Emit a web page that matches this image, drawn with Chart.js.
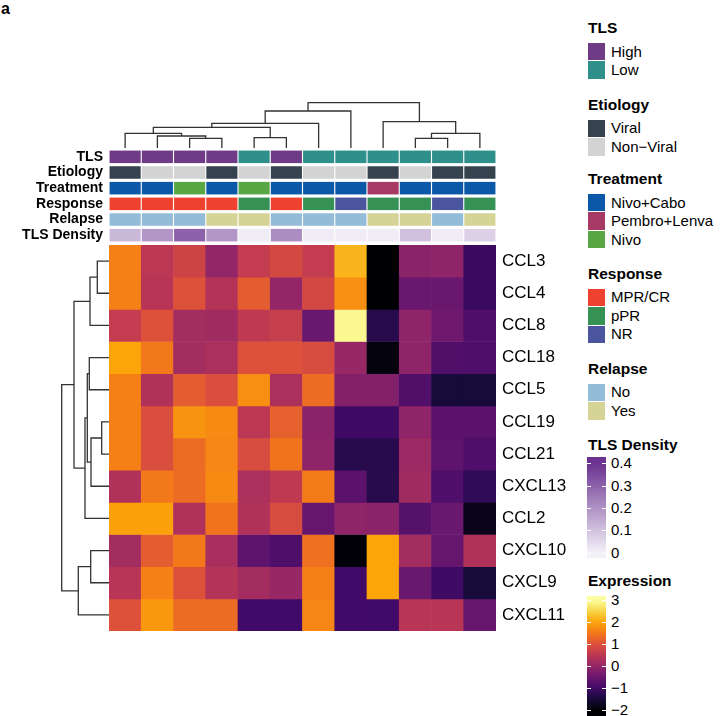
<!DOCTYPE html>
<html>
<head>
<meta charset="utf-8">
<script src="https://cdn.jsdelivr.net/npm/chart.js@4.4.1/dist/chart.umd.min.js"></script>
<style>
  body { margin: 0; background: #fff; width: 720px; height: 716px; position: relative; overflow: hidden;
         font-family: "Liberation Sans", Arial, sans-serif; color: #000; }
  canvas { position: absolute; }
  .txt { position: absolute; white-space: nowrap; }
  .title { font-weight: bold; font-size: 15.5px; }
  .lab { font-size: 15px; }
  .sw { position: absolute; }
  .tick { position: absolute; background: #fff; height: 1px; width: 4px; }
</style>
</head>
<body>
<div class="txt" style="left:1px;top:0px;font-weight:bold;font-size:16px;">a</div>
<canvas id="topDendro" width="387" height="54" style="left:109px;top:94px;"></canvas>
<canvas id="leftDendro" width="54" height="386" style="left:55px;top:245px;"></canvas>
<canvas id="annot" width="478" height="94" style="left:18px;top:149px;"></canvas>
<canvas id="heat" width="477" height="386" style="left:109px;top:245px;"></canvas>
<div id="legends"></div>
<script>
// ========== DATA ==========
const columns = ['P1', 'P2', 'P3', 'P4', 'P5', 'P6', 'P7', 'P8', 'P9', 'P10', 'P11', 'P12'];
const genes = ['CCL3', 'CCL4', 'CCL8', 'CCL18', 'CCL5', 'CCL19', 'CCL21', 'CXCL13', 'CCL2', 'CXCL10', 'CXCL9', 'CXCL11'];

// one row per gene, columns in display order
const expression = [
  [1.6, 0.5, 0.75, 0.0, 0.6, 0.85, 0.6, 2.15, -2.0, -0.1, -0.05, -1.1],     // CCL3
  [1.6, 0.45, 1.0, 0.4, 1.15, 0.0, 0.85, 1.75, -2.0, -0.5, -0.5, -1.1],    // CCL4
  [0.6, 1.0, 0.2, 0.15, 0.55, 0.65, -0.5, 2.9, -1.3, -0.05, -0.45, -0.85], // CCL8
  [2.0, 1.5, 0.2, 0.3, 1.0, 1.0, 0.9, 0.05, -1.9, -0.05, -0.8, -0.85],     // CCL18
  [1.6, 0.35, 1.15, 0.95, 1.75, 0.3, 1.35, -0.2, -0.2, -0.8, -1.5, -1.5],  // CCL5
  [1.6, 0.95, 1.8, 1.7, 0.5, 1.2, -0.1, -1.05, -1.05, -0.05, -0.7, -0.7],  // CCL19
  [1.6, 0.95, 1.35, 1.65, 0.9, 1.45, -0.05, -1.3, -1.3, 0.1, -0.65, -0.85],// CCL21
  [0.35, 1.5, 1.35, 1.7, 0.3, 0.55, 1.55, -0.7, -1.3, 0.15, -0.85, -1.2],  // CXCL13
  [1.95, 1.95, 0.35, 1.45, 0.35, 0.9, -0.55, -0.05, -0.1, -0.75, -0.5, -1.8], // CCL2
  [0.2, 1.15, 1.5, 0.25, -0.65, -0.85, 1.4, -1.95, 2.0, 0.2, -0.55, 0.35], // CXCL10
  [0.45, 1.6, 1.0, 0.4, 0.2, 0.05, 1.6, -1.0, 2.0, -0.5, -1.05, -1.5],     // CXCL9
  [1.0, 1.85, 1.35, 1.35, -1.0, -1.0, 1.65, -1.0, -1.0, 0.45, 0.45, -0.55] // CXCL11
];

const trackNames = ['TLS', 'Etiology', 'Treatment', 'Response', 'Relapse', 'TLS Density'];
const tls = ['High', 'High', 'High', 'High', 'Low', 'High', 'Low', 'Low', 'Low', 'Low', 'Low', 'Low'];
const etiology = ['Viral', 'Non−Viral', 'Non−Viral', 'Viral', 'Non−Viral', 'Viral', 'Non−Viral', 'Non−Viral', 'Viral', 'Non−Viral', 'Viral', 'Viral'];
const treatment = ['Nivo+Cabo', 'Nivo+Cabo', 'Nivo', 'Nivo+Cabo', 'Nivo', 'Nivo+Cabo', 'Nivo+Cabo', 'Nivo+Cabo', 'Pembro+Lenva', 'Nivo+Cabo', 'Nivo+Cabo', 'Nivo+Cabo'];
const response = ['MPR/CR', 'MPR/CR', 'MPR/CR', 'MPR/CR', 'pPR', 'MPR/CR', 'pPR', 'NR', 'pPR', 'pPR', 'NR', 'pPR'];
const relapse = ['No', 'No', 'No', 'Yes', 'Yes', 'No', 'No', 'No', 'Yes', 'Yes', 'No', 'Yes'];
const tlsDensity = [0.12, 0.19, 0.3, 0.19, 0.01, 0.21, 0.01, 0.01, 0.01, 0.1, 0.01, 0.07];

// hclust style merges: negative = leaf -(index+1), positive = earlier merge (1-based), then height
const colMerge = [
  [-3, -4, 9.7], [-2, 1, 12], [-1, 2, 14.7], [-5, -6, 10.3], [3, 4, 20.7], [5, -7, 24.7],
  [6, -8, 37], [-10, -11, 9.7], [8, -12, 14.7], [-9, 9, 26.3], [7, 10, 45.3]
];
const rowMerge = [
  [-1, -2, 11.7], [1, -3, 19], [-4, -5, 19.7], [-6, -7, 7.3], [4, -8, 18], [3, 5, 21.7],
  [6, -9, 24], [2, 7, 35], [-10, -11, 18.3], [9, -12, 30.7], [8, 10, 47.3]
];

const densityTicks = [0.4, 0.3, 0.2, 0.1, 0];
const expressionTicks = [3, 2, 1, 0, -1, -2];

// ========== COLORS ==========
const tlsColors = { 'High': '#6f3b87', 'Low': '#2f8f8a' };
const etiologyColors = { 'Viral': '#36434e', 'Non−Viral': '#d3d3d3' };
const treatmentColors = { 'Nivo+Cabo': '#0b58a8', 'Pembro+Lenva': '#a73a64', 'Nivo': '#58a744' };
const responseColors = { 'MPR/CR': '#ee4130', 'pPR': '#369254', 'NR': '#4a559e' };
const relapseColors = { 'No': '#93bcd8', 'Yes': '#d6d396' };
const infernoStops = ['#000004', '#160b39', '#420a68', '#6a176e', '#932667', '#bc3754', '#dd513a', '#f37819', '#fca50a', '#f6d746', '#fcffa4'];
const densityStops = ['#f3f1f8', '#6b3290'];
const EXPR_MIN = -2, EXPR_MAX = 3, DENS_MAX = 0.4;

function hexToRgb(h) {
  return [1, 3, 5].map(i => parseInt(h.slice(i, i + 2), 16));
}
function rampColor(stops, t) {
  t = Math.max(0, Math.min(1, t));
  const pos = t * (stops.length - 1);
  const i = Math.min(Math.floor(pos), stops.length - 2);
  const f = pos - i;
  const a = hexToRgb(stops[i]), b = hexToRgb(stops[i + 1]);
  const c = a.map((v, k) => Math.round(v + (b[k] - v) * f));
  return `rgb(${c[0]},${c[1]},${c[2]})`;
}
const exprColor = v => rampColor(infernoStops, (v - EXPR_MIN) / (EXPR_MAX - EXPR_MIN));
const densColor = v => rampColor(densityStops, v / DENS_MAX);

Chart.defaults.font.family = '"Liberation Sans", Arial, sans-serif';
Chart.defaults.color = '#000';

const quiet = {
  responsive: false,
  animation: false,
  events: [],
  layout: { padding: 0 },
  plugins: { legend: { display: false }, tooltip: { enabled: false } }
};

// side axes: fixed width, no extra padding for the end labels
const fixAxis = w => axis => {
  axis.width = w;
  axis.paddingTop = 0;
  axis.paddingBottom = 0;
};

// ========== DENDROGRAMS ==========
function dendroSegments(merge) {
  const pos = [];
  const nodePos = n => n < 0 ? { p: -n - 1, h: 0 } : pos[n - 1];
  return merge.map(([a, b, h]) => {
    const A = nodePos(a), B = nodePos(b);
    pos.push({ p: (A.p + B.p) / 2, h: h });
    return [{ p: A.p, h: A.h }, { p: A.p, h: h }, { p: B.p, h: h }, { p: B.p, h: B.h }];
  });
}
const lineStyle = { showLine: true, pointRadius: 0, borderColor: '#333', borderWidth: 1.3, clip: false };

new Chart(document.getElementById('topDendro'), {
  type: 'scatter',
  data: {
    datasets: dendroSegments(colMerge).map(seg => ({
      ...lineStyle, data: seg.map(s => ({ x: s.p, y: s.h }))
    }))
  },
  options: {
    ...quiet,
    scales: {
      x: { display: false, min: -0.5, max: columns.length - 0.5 },
      y: { display: false, min: 0, max: 54 }
    }
  }
});

new Chart(document.getElementById('leftDendro'), {
  type: 'scatter',
  data: {
    datasets: dendroSegments(rowMerge).map(seg => ({
      ...lineStyle, data: seg.map(s => ({ x: s.h, y: s.p }))
    }))
  },
  options: {
    ...quiet,
    scales: {
      x: { display: false, reverse: true, min: 0, max: 54 },
      y: { display: false, reverse: true, min: -0.5, max: genes.length - 0.5 }
    }
  }
});

// ========== ANNOTATION TRACKS ==========
const trackColors = [
  tls.map(v => tlsColors[v]),
  etiology.map(v => etiologyColors[v]),
  treatment.map(v => treatmentColors[v]),
  response.map(v => responseColors[v]),
  relapse.map(v => relapseColors[v]),
  tlsDensity.map(densColor)
];

new Chart(document.getElementById('annot'), {
  type: 'bar',
  data: {
    labels: columns,
    datasets: trackNames.map((name, k) => ({
      label: name,
      data: columns.map(() => [k + 0.1, k + 0.9]),
      backgroundColor: trackColors[k],
      grouped: false,
      categoryPercentage: 1,
      barPercentage: 0.965,
      borderWidth: 0
    }))
  },
  options: {
    ...quiet,
    scales: {
      x: { display: false },
      y: {
        position: 'left', reverse: true, min: 0, max: trackNames.length,
        grid: { display: false, drawTicks: false }, border: { display: false },
        afterBuildTicks: axis => { axis.ticks = trackNames.map((n, k) => ({ value: k + 0.5 })); },
        afterFit: fixAxis(91),
        ticks: {
          autoSkip: false, padding: 6, color: '#000',
          font: { size: 14, weight: 'bold' },
          callback: v => trackNames[Math.floor(v)]
        }
      }
    }
  }
});

// ========== HEATMAP ==========
new Chart(document.getElementById('heat'), {
  type: 'bar',
  data: {
    labels: columns,
    datasets: genes.map((g, r) => ({
      label: g,
      data: columns.map(() => [r, r + 1]),
      backgroundColor: expression[r].map(exprColor),
      grouped: false,
      categoryPercentage: 1,
      barPercentage: 1,
      borderWidth: 0
    }))
  },
  options: {
    ...quiet,
    scales: {
      x: { display: false },
      y: {
        position: 'right', reverse: true, min: 0, max: genes.length,
        grid: { display: false, drawTicks: false }, border: { display: false },
        afterBuildTicks: axis => { axis.ticks = genes.map((g, r) => ({ value: r + 0.5 })); },
        afterFit: fixAxis(90),
        ticks: {
          autoSkip: false, padding: 6, color: '#000',
          font: { size: 17 },
          callback: v => genes[Math.floor(v)]
        }
      }
    }
  }
});

// ========== LEGENDS ==========
const lg = document.getElementById('legends');
function addText(cls, text, x, yc, h) {
  const d = document.createElement('div');
  d.className = 'txt ' + cls;
  d.style.left = x + 'px';
  d.style.top = (yc - h / 2) + 'px';
  d.style.lineHeight = h + 'px';
  d.textContent = text;
  lg.appendChild(d);
}
function addBox(x, y, w, h, bg) {
  const d = document.createElement('div');
  d.className = 'sw';
  Object.assign(d.style, { left: x + 'px', top: y + 'px', width: w + 'px', height: h + 'px', background: bg });
  lg.appendChild(d);
}

const LX = 588, TX = 611, SW = 17, PITCH = 18.5;
const discrete = [
  ['TLS', tlsColors, 28.3],
  ['Etiology', etiologyColors, 105],
  ['Treatment', treatmentColors, 179.3],
  ['Response', responseColors, 274],
  ['Relapse', relapseColors, 369]
];
discrete.forEach(([title, colors, ty]) => {
  addText('title', title, LX, ty, 18);
  Object.keys(colors).forEach((lev, i) => {
    const yc = ty + 23.4 + i * PITCH;
    addBox(LX, yc - PITCH / 2 + 0.5, SW, PITCH - 1, colors[lev]);
    addText('lab', lev, TX, yc, 18);
  });
});

function colorBar(title, ty, ticks, stops, vmin, vmax, firstTick, step, top, bottom) {
  addText('title', title, LX, ty, 18);
  const yOf = v => firstTick + (ticks[0] - v) / (ticks[0] - ticks[1]) * step;
  const yTop = yOf(vmax), yBot = yOf(vmin);
  // gradient built so that colours land on the tick positions
  const grad = [];
  for (let i = 0; i <= 20; i++) {
    const y = top + (bottom - top) * i / 20;
    const v = vmax - (y - yTop) / (yBot - yTop) * (vmax - vmin);
    grad.push(rampColor(stops, (v - vmin) / (vmax - vmin)) + ' ' + (i * 5) + '%');
  }
  addBox(LX - 1, top, 19, bottom - top, 'linear-gradient(to bottom,' + grad.join(',') + ')');
  ticks.forEach(t => {
    const y = yOf(t);
    const l1 = document.createElement('div'); l1.className = 'tick';
    l1.style.left = (LX - 1) + 'px'; l1.style.top = y + 'px'; lg.appendChild(l1);
    const l2 = document.createElement('div'); l2.className = 'tick';
    l2.style.left = (LX + 14) + 'px'; l2.style.top = y + 'px'; lg.appendChild(l2);
    addText('lab', String(t).replace('-', '\u2212'), TX, y, 18);
  });
}
colorBar('TLS Density', 445, densityTicks, densityStops, 0, DENS_MAX, 463.3, 22.35, 457, 558);
colorBar('Expression', 580.7, expressionTicks, infernoStops, EXPR_MIN, EXPR_MAX, 600, 22, 596, 716);
</script>
</body>
</html>
